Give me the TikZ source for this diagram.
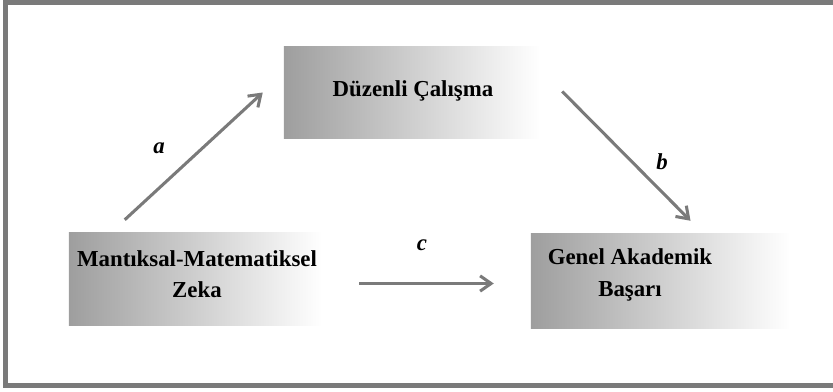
\documentclass[tikz,border=0pt]{standalone}
\usepackage{fontspec}
\setmainfont{Liberation Serif}
\usepackage{tikz}
\usetikzlibrary{arrows.meta}
\tikzstyle{shadedbox}=[rectangle, inner sep=0pt, left color=black!38, right color=white]
\tikzstyle{boxtext}=[align=center, inner sep=0pt, font=\fontsize{19.5}{27}\selectfont\bfseries]
\tikzstyle{pathlabel}=[inner sep=0pt, font=\fontsize{19.5}{24}\selectfont\bfseries\itshape]
\tikzstyle{arrow}=[draw=black!52, line width=2.6pt, -{Straight Barb[length=3.3mm, width=4.6mm]}]

\begin{document}
\begin{tikzpicture}[x=0.03cm, y=-0.03cm]
		   \useasboundingbox (0,0) rectangle (833,392);
		   \draw [black!52, line width=4.3pt] (833,2) -- (5.5,2) -- (5.5,385.5) -- (833,385.5);
		   \begin{scope}
			   \node (duzenli) at (412,92.5) [shadedbox, minimum width=7.68cm, minimum height=2.73cm] {};
			   \node (zeka) at (195.5,278.5) [shadedbox, minimum width=7.59cm, minimum height=2.79cm] {};
			   \node (basari) at (660.5,280.5) [shadedbox, minimum width=7.77cm, minimum height=2.85cm] {};

			   \node (duzenlitxt) at (413,91) [boxtext] {Düzenli Çalışma};
			   \node (zekatxt) at (197,274) [boxtext] {Mantıksal-Matematiksel\\Zeka};
			   \node (basaritxt) at (630,275) [boxtext] {Genel Akademik\\Başarı};

			   \node (la) at (159,148) [pathlabel] {a};
			   \node (lb) at (662,162) [pathlabel] {b};
			   \node (lc) at (422,245) [pathlabel] {c};
		   \end{scope}
		   \begin{scope}
			   \path ([shift={(56,-12)}]zeka.north west) edge [arrow] ([shift={(-21,0)}]duzenli.west);
			   \path ([shift={(22,-1)}]duzenli.east) edge [arrow] ([shift={(30,-12)}]basari.north);
			   \path ([shift={(37,5)}]zeka.east) edge [arrow] ([shift={(-37,3)}]basari.west);
		   \end{scope}
	   \end{tikzpicture}
\end{document}
